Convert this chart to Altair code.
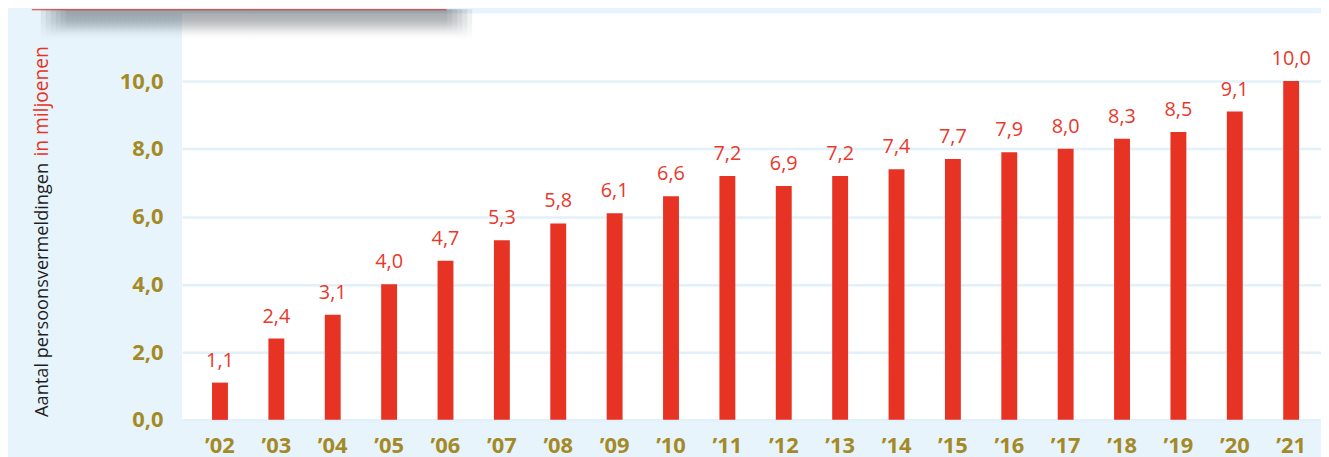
import altair as alt
import pandas as pd

years = ["’02", "’03", "’04", "’05", "’06", "’07", "’08", "’09", "’10", "’11",
         "’12", "’13", "’14", "’15", "’16", "’17", "’18", "’19", "’20", "’21"]
values = [1.1, 2.4, 3.1, 4.0, 4.7, 5.3, 5.8, 6.1, 6.6, 7.2,
          6.9, 7.2, 7.4, 7.7, 7.9, 8.0, 8.3, 8.5, 9.1, 10.0]
y_ticks = [0, 2, 4, 6, 8, 10]
title_black = "Aantal persoonsvermeldingen"
title_red = "in miljoenen"

RED = "#E63323"
LABEL_RED = "#E8392C"
OLIVE = "#A38A26"
BG = "#E8F4FB"
GRID = "#E2F0FA"
FONT = "Open Sans"

df = pd.DataFrame({"jaar": years, "waarde": values})
df["label"] = [f"{v:.1f}".replace(".", ",") for v in values]

W, H = 1146, 409

xscale = alt.Scale(domain=years, paddingInner=0.718, paddingOuter=0.461, align=0.579)
yscale = alt.Scale(domain=[0, 12], nice=False)

base = alt.Chart(df)

bars = base.mark_bar(color=RED).encode(
    x=alt.X("jaar:N", sort=years, scale=xscale, title=None,
            axis=alt.Axis(labelFont=FONT, labelFontSize=22, labelFontWeight="bold",
                          labelColor=OLIVE, labelAngle=0, domain=False, ticks=False,
                          tickSize=0, labelBaseline="alphabetic", labelPadding=33)),
    y=alt.Y("waarde:Q", scale=yscale, title=None,
            axis=alt.Axis(values=y_ticks, labelExpr="replace(format(datum.value, '.1f'), '.', ',')",
                          labelFont=FONT, labelFontSize=22, labelFontWeight="bold",
                          labelColor=OLIVE, domain=False, ticks=False, tickSize=0,
                          labelPadding=19, grid=True, gridColor=GRID, gridWidth=2.5,
                          labelBaseline="middle")),
)

texts = base.mark_text(color=LABEL_RED, font=FONT, fontSize=20, baseline="alphabetic",
                       dy=-16).encode(
    x=alt.X("jaar:N", sort=years, scale=xscale),
    y=alt.Y("waarde:Q", scale=yscale),
    text="label:N",
)

one = alt.Data(values=[{"a": 1}])

# invisible rect that fixes the left/top extent of the chart
left_fill = alt.Chart(one).mark_rect(color=BG, opacity=0).encode(
    x=alt.value(-175), x2=alt.value(0), y=alt.value(-4), y2=alt.value(H))

shadow_layers = []
for i in range(6):
    shadow_layers.append(
        alt.Chart(one).mark_rect(
            color=alt.LinearGradient(
                gradient="linear", x1=0, x2=0, y1=0, y2=1,
                stops=[alt.GradientStop(color="rgba(40,50,60,0.09)", offset=0),
                       alt.GradientStop(color="rgba(40,50,60,0.065)", offset=0.45),
                       alt.GradientStop(color="rgba(40,50,60,0)", offset=1)])
        ).encode(x=alt.value(-142 + i * 5), x2=alt.value(292 - i * 5),
                 y=alt.value(-4), y2=alt.value(27 - i * 2))
    )

red_box = alt.Chart(one).mark_rect(color=RED).encode(
    x=alt.value(-151), x2=alt.value(266), y=alt.value(-4), y2=alt.value(-3))

t_black = alt.Chart(one).mark_text(
    angle=270, align="left", baseline="alphabetic", font=FONT, fontSize=18.3, color="#1E1E1E"
).encode(x=alt.value(-135), y=alt.value(406), text=alt.value(title_black))

t_red = alt.Chart(one).mark_text(
    angle=270, align="right", baseline="alphabetic", font=FONT, fontSize=19.3, color=RED
).encode(x=alt.value(-135), y=alt.value(33), text=alt.value(title_red))

chart = alt.layer(left_fill, bars, texts, *shadow_layers, red_box, t_black, t_red).properties(
    width=W, height=H, padding=0, background=BG
).configure_view(fill="white", strokeWidth=0)

chart.save("out.html", embed_options={"renderer": "svg", "actions": False})
